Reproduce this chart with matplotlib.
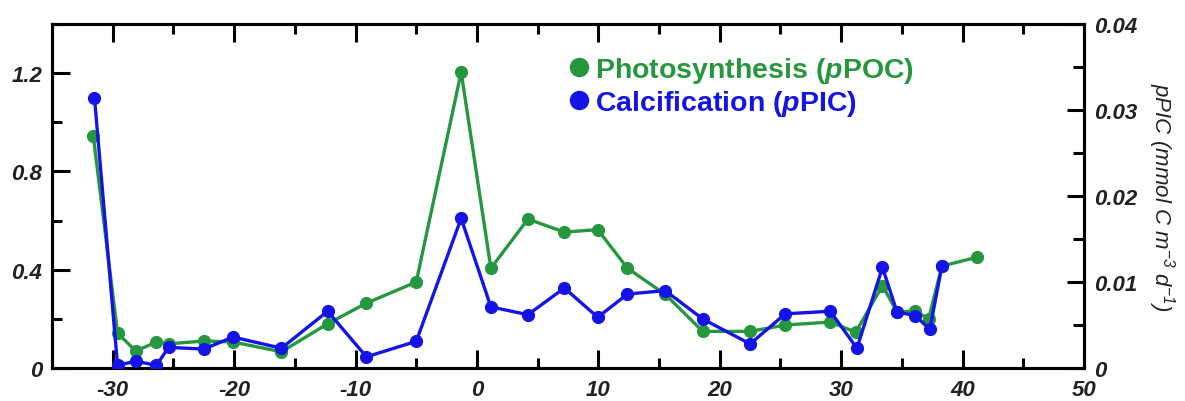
import matplotlib
matplotlib.use("Agg")
import matplotlib.pyplot as plt
from matplotlib.ticker import MultipleLocator, FuncFormatter
from matplotlib.lines import Line2D

plt.rcParams['font.family'] = ['Liberation Sans', 'DejaVu Sans']
plt.rcParams['axes.unicode_minus'] = False
plt.rcParams['mathtext.fontset'] = 'custom'
plt.rcParams['mathtext.rm'] = 'Liberation Sans:italic'
plt.rcParams['mathtext.it'] = 'Liberation Sans:italic'
plt.rcParams['mathtext.bf'] = 'Liberation Sans:bold:italic'

# Data
poc_x = [-31.6, -29.6, -28.1, -26.4, -25.4, -22.5, -20.1, -16.1, -12.3, -9.1, -5.0, -1.3,
         1.15, 4.2, 7.2, 9.95, 12.4, 15.5, 18.6, 22.5, 25.4, 29.1, 31.2, 33.4, 34.6,
         36.1, 37.2, 38.3, 41.2]
poc_y = [0.944, 0.142, 0.069, 0.106, 0.098, 0.110, 0.106, 0.066, 0.180, 0.264, 0.350, 1.204,
         0.406, 0.606, 0.553, 0.563, 0.406, 0.300, 0.149, 0.149, 0.175, 0.187, 0.146, 0.335,
         0.228, 0.232, 0.200, 0.415, 0.451]

pic_x = [-31.5, -29.6, -28.1, -26.4, -25.4, -22.5, -20.1, -16.1, -12.3, -9.1, -5.0, -1.3,
         1.15, 4.2, 7.2, 9.95, 12.4, 15.5, 18.6, 22.5, 25.4, 29.1, 31.3, 33.4, 34.6,
         36.1, 37.3, 38.3]
pic_y = [0.0314, 0.0003, 0.0008, 0.0003, 0.0024, 0.0022, 0.0036, 0.0023, 0.0066, 0.0013,
         0.0031, 0.0174, 0.0071, 0.0062, 0.0093, 0.0059, 0.0086, 0.0090, 0.0057, 0.0028,
         0.0063, 0.0066, 0.0023, 0.0117, 0.0065, 0.0061, 0.0045, 0.0119]

green = '#27973f'
blue = '#1414e6'

fig = plt.figure(figsize=(11.85, 4.02), dpi=100)
ax = fig.add_axes([52/1185, 33/402, (1084-52)/1185, (369-25)/402])
ax2 = ax.twinx()

ax.plot(poc_x, poc_y, '-o', color=green, lw=2.4, ms=8.5, zorder=2)
ax2.plot(pic_x, pic_y, '-o', color=blue, lw=2.4, ms=8.5, zorder=3)

ax.set_xlim(-35, 50)
ax.set_ylim(0, 1.4)
ax2.set_ylim(0, 0.04)

ax.xaxis.set_major_locator(MultipleLocator(10))
ax.xaxis.set_minor_locator(MultipleLocator(5))
ax.yaxis.set_major_locator(MultipleLocator(0.4))
ax.yaxis.set_minor_locator(MultipleLocator(0.2))
ax2.yaxis.set_major_locator(MultipleLocator(0.01))
ax2.yaxis.set_minor_locator(MultipleLocator(0.005))

ax.xaxis.set_major_formatter(FuncFormatter(lambda v, p: f'{v:.0f}'))
ax.yaxis.set_major_formatter(FuncFormatter(
    lambda v, p: '0' if abs(v) < 1e-9 else f'{v:.1f}'))
ax2.yaxis.set_major_formatter(FuncFormatter(
    lambda v, p: '0' if abs(v) < 1e-9 else f'{v:.2f}'))

for a in (ax, ax2):
    for s in a.spines.values():
        s.set_linewidth(2.2)

ax.tick_params(axis='x', which='both', direction='in', top=True, bottom=True,
               width=2.2, pad=8)
ax.tick_params(axis='x', which='major', length=13)
ax.tick_params(axis='x', which='minor', length=7)
ax.tick_params(axis='y', which='both', direction='in', left=True, right=False,
               width=2.2, pad=7)
ax.tick_params(axis='y', which='major', length=13)
ax.tick_params(axis='y', which='minor', length=7)
ax2.tick_params(axis='y', which='both', direction='in', right=True, left=False,
                width=2.2, pad=7)
ax2.tick_params(axis='y', which='major', length=12)
ax2.tick_params(axis='y', which='minor', length=8)

for lab in ax.get_xticklabels() + ax.get_yticklabels() + ax2.get_yticklabels():
    lab.set_fontsize(16)
    lab.set_fontweight('bold')
    lab.set_fontstyle('italic')
    lab.set_color('#222222')

ax2.set_ylabel('pPIC (mmol C m$^{-3}$ d$^{-1}$)', rotation=-90, fontsize=16,
               fontstyle='italic', fontweight='normal', labelpad=29, color='#222222')

handles = [Line2D([], [], marker='o', ls='none', color=green, ms=13),
           Line2D([], [], marker='o', ls='none', color=blue, ms=13)]
leg = ax.legend(handles, ['Photosynthesis ($\\mathbf{p}$POC)', 'Calcification ($\\mathbf{p}$PIC)'],
                loc='upper left', bbox_to_anchor=(0.486, 0.942), frameon=False,
                prop={'size': 20.5, 'weight': 'bold'}, handletextpad=0.05,
                handlelength=1.0, labelspacing=0.1, borderaxespad=0)
for t, c in zip(leg.get_texts(), [green, blue]):
    t.set_color(c)

fig.savefig('out.png', dpi=100)
